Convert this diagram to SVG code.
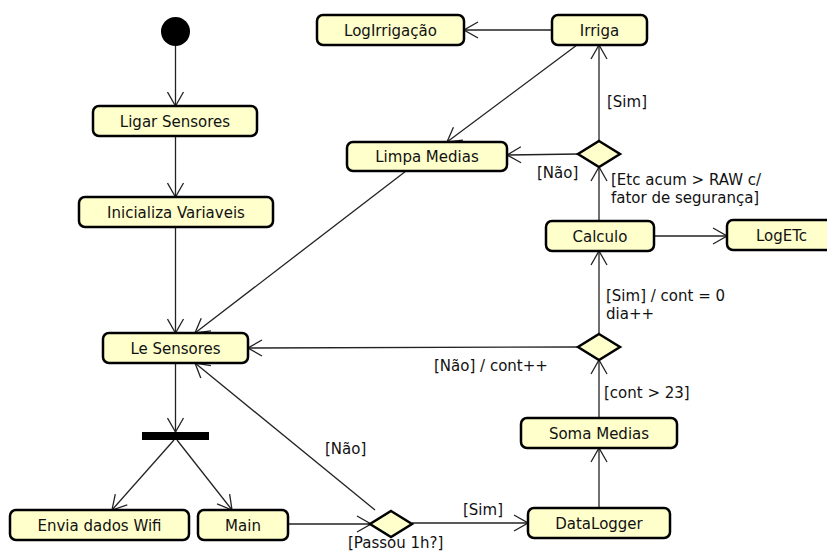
<svg xmlns="http://www.w3.org/2000/svg" width="827" height="552" viewBox="0 0 827 552">
<defs>
<marker id="arr" viewBox="0 0 16 18" refX="15" refY="9" markerWidth="16" markerHeight="18" markerUnits="userSpaceOnUse" orient="auto">
<path d="M1,1 L15,9 L1,17" fill="none" stroke="#222" stroke-width="1.3"/>
</marker>
<style>
.n rect{fill:#ffffcc;stroke:#000;stroke-width:2.5}
.d{fill:#ffffcc;stroke:#000;stroke-width:2.5;stroke-linejoin:miter}
text{font-family:"DejaVu Sans","Liberation Sans",sans-serif;font-size:15px;fill:#111}
.c{text-anchor:middle}
.e line,.e path{stroke:#222;stroke-width:1.3;fill:none;marker-end:url(#arr)}
</style>
</defs>
<rect width="827" height="552" fill="#fff"/>

<g class="e" id="connectors">
<line x1="175.5" y1="46" x2="175.5" y2="106"/>
<line x1="175.5" y1="136" x2="175.5" y2="197"/>
<line x1="175.5" y1="227" x2="175.5" y2="333"/>
<line x1="406" y1="171" x2="195" y2="333"/>
<line x1="577" y1="45" x2="447" y2="142"/>
<line x1="552" y1="30" x2="464" y2="30"/>
<line x1="599" y1="141" x2="599" y2="45"/>
<line x1="579" y1="154" x2="507" y2="155"/>
<line x1="599" y1="221" x2="599" y2="167"/>
<line x1="654" y1="236" x2="727" y2="236"/>
<line x1="599" y1="334" x2="599" y2="251"/>
<line x1="579" y1="347" x2="248" y2="348"/>
<line x1="599" y1="418" x2="599" y2="360"/>
<line x1="599" y1="508" x2="599" y2="448"/>
<line x1="412" y1="523" x2="528" y2="523"/>
<line x1="288" y1="524" x2="371" y2="524"/>
<line x1="375" y1="510" x2="195" y2="363"/>
<line x1="175.5" y1="363" x2="175.5" y2="432"/>
<line x1="174" y1="440" x2="112" y2="510"/>
<line x1="177" y1="440" x2="232" y2="510"/>
</g>

<g id="labels">
<text x="607" y="107">[Sim]</text>
<text x="537" y="178">[Não]</text>
<text x="611" y="185">[Etc acum &gt; RAW c/</text>
<text x="611" y="203">fator de segurança]</text>
<text x="606" y="301">[Sim] / cont = 0</text>
<text x="606" y="319">dia++</text>
<text x="434" y="371">[Não] / cont++</text>
<text x="604" y="398">[cont &gt; 23]</text>
<text x="463" y="515">[Sim]</text>
<text x="325" y="454">[Não]</text>
<text x="348" y="548">[Passou 1h?]</text>
</g>

<g id="start"><circle cx="175.5" cy="31.5" r="14.5" fill="#000"/></g>
<g id="fork"><rect x="142" y="432" width="67" height="8" fill="#000"/></g>

<g class="n" id="ligar"><rect x="93" y="106" width="164" height="30" rx="6"/><text class="c" x="175" y="127">Ligar Sensores</text></g>
<g class="n" id="inicializa"><rect x="79" y="197" width="194" height="30" rx="6"/><text class="c" x="176" y="218">Inicializa Variaveis</text></g>
<g class="n" id="lesensores"><rect x="103" y="333" width="145" height="30" rx="6"/><text class="c" x="175.5" y="354">Le Sensores</text></g>
<g class="n" id="envia"><rect x="10" y="510" width="179" height="30" rx="6"/><text class="c" x="99.5" y="531">Envia dados Wifi</text></g>
<g class="n" id="main"><rect x="198" y="510" width="90" height="30" rx="6"/><text class="c" x="243" y="531">Main</text></g>
<g class="n" id="logirrigacao"><rect x="317" y="15" width="147" height="30" rx="6"/><text class="c" x="390.5" y="36">LogIrrigação</text></g>
<g class="n" id="irriga"><rect x="552" y="15" width="95" height="30" rx="6"/><text class="c" x="599.5" y="36">Irriga</text></g>
<g class="n" id="limpa"><rect x="347" y="142" width="160" height="29" rx="6"/><text class="c" x="427" y="162">Limpa Medias</text></g>
<g class="n" id="calculo"><rect x="546" y="221" width="108" height="30" rx="6"/><text class="c" x="600" y="242">Calculo</text></g>
<g class="n" id="logetc"><rect x="727" y="220" width="109" height="30" rx="6"/><text class="c" x="781.5" y="241">LogETc</text></g>
<g class="n" id="soma"><rect x="521" y="418" width="156" height="30" rx="6"/><text class="c" x="599" y="439">Soma Medias</text></g>
<g class="n" id="datalogger"><rect x="528" y="508" width="142" height="30" rx="6"/><text class="c" x="599" y="529">DataLogger</text></g>

<g id="dec1"><polygon class="d" points="599,141 620,154 599,167 578,154"/></g>
<g id="dec2"><polygon class="d" points="599,334 620,347 599,360 578,347"/></g>
<g id="dec3"><polygon class="d" points="391,511 412,524 391,537 370,524"/></g>
</svg>
